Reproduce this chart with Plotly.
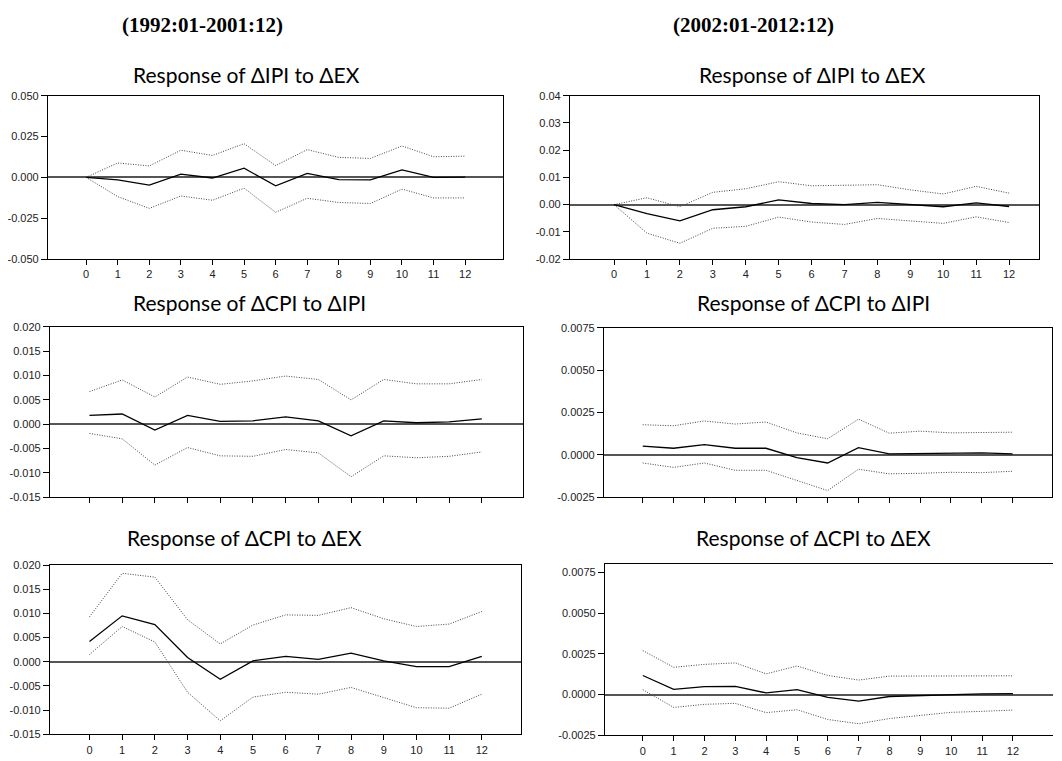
import plotly.graph_objects as go

# the page body adds an 8px margin; the figure is sized so that it fills the 1062x761 window
OFF = 8
W, H = 1062 - OFF, 761 - OFF

horizons = list(range(13))
x_tick_labels = [str(h) for h in horizons]

# Panel 1: Response of dIPI to dEX (1992:01-2001:12)
p1_resp = [0.0, -0.0016, -0.0048, 0.0020, -0.0004, 0.0056, -0.0052, 0.0024, -0.0014, -0.0016, 0.0046, 0.0000, 0.0002]
p1_upper = [0.0, 0.0088, 0.0070, 0.0166, 0.0134, 0.0206, 0.0072, 0.0170, 0.0122, 0.0116, 0.0192, 0.0126, 0.0130]
p1_lower = [0.0, -0.0118, -0.0190, -0.0114, -0.0140, -0.0066, -0.0214, -0.0128, -0.0154, -0.0160, -0.0072, -0.0126, -0.0126]
p1_yticks = [-0.050, -0.025, 0.000, 0.025, 0.050]
p1_yticklabels = ["-0.050", "-0.025", "0.000", "0.025", "0.050"]

# Panel 2: Response of dIPI to dEX (2002:01-2012:12)
p2_resp = [0.0, -0.0033, -0.0060, -0.0019, -0.0008, 0.0017, 0.0004, 0.0000, 0.0008, 0.0000, -0.0008, 0.0006, -0.0007]
p2_upper = [0.0, 0.0025, -0.0008, 0.0045, 0.0058, 0.0084, 0.0069, 0.0071, 0.0073, 0.0054, 0.0039, 0.0067, 0.0042]
p2_lower = [0.0, -0.0105, -0.0142, -0.0087, -0.0080, -0.0046, -0.0064, -0.0073, -0.0051, -0.0061, -0.0069, -0.0045, -0.0066]
p2_yticks = [-0.02, -0.01, 0.00, 0.01, 0.02, 0.03, 0.04]
p2_yticklabels = ["-0.02", "-0.01", "0.00", "0.01", "0.02", "0.03", "0.04"]

# Panel 3: Response of dCPI to dIPI (1992:01-2001:12)
p3_resp = [0.0018, 0.0021, -0.0012, 0.0018, 0.0006, 0.0007, 0.0015, 0.0007, -0.0024, 0.0007, 0.0003, 0.0005, 0.0011]
p3_upper = [0.0067, 0.0091, 0.0056, 0.0097, 0.0082, 0.0089, 0.0099, 0.0092, 0.0050, 0.0092, 0.0083, 0.0083, 0.0092]
p3_lower = [-0.0019, -0.0030, -0.0084, -0.0048, -0.0065, -0.0066, -0.0052, -0.0059, -0.0108, -0.0065, -0.0069, -0.0066, -0.0057]
p3_yticks = [-0.015, -0.010, -0.005, 0.000, 0.005, 0.010, 0.015, 0.020]
p3_yticklabels = ["-0.015", "-0.010", "-0.005", "0.000", "0.005", "0.010", "0.015", "0.020"]

# Panel 4: Response of dCPI to dIPI (2002:01-2012:12)
p4_resp = [0.00052, 0.00039, 0.00060, 0.00039, 0.00039, -0.00016, -0.00048, 0.00043, 0.00006, 0.00008, 0.00012, 0.00012, 0.00006]
p4_upper = [0.00178, 0.00172, 0.00200, 0.00182, 0.00194, 0.00130, 0.00095, 0.00211, 0.00128, 0.00140, 0.00130, 0.00130, 0.00134]
p4_lower = [-0.00048, -0.00074, -0.00048, -0.00091, -0.00091, -0.00153, -0.00211, -0.00085, -0.00112, -0.00109, -0.00103, -0.00105, -0.00097]
p4_yticks = [-0.0025, 0.0, 0.0025, 0.0050, 0.0075]
p4_yticklabels = ["-0.0025", "0.0000", "0.0025", "0.0050", "0.0075"]

# Panel 5: Response of dCPI to dEX (1992:01-2001:12)
p5_resp = [0.0042, 0.0095, 0.0077, 0.0009, -0.0036, 0.0002, 0.0011, 0.0005, 0.0018, 0.0002, -0.0010, -0.0010, 0.0011]
p5_upper = [0.0093, 0.0183, 0.0175, 0.0087, 0.0037, 0.0076, 0.0097, 0.0096, 0.0112, 0.0089, 0.0073, 0.0078, 0.0104]
p5_lower = [0.0015, 0.0073, 0.0041, -0.0063, -0.0122, -0.0073, -0.0063, -0.0067, -0.0053, -0.0074, -0.0095, -0.0096, -0.0067]
p5_yticks = p3_yticks
p5_yticklabels = p3_yticklabels

# Panel 6: Response of dCPI to dEX (2002:01-2012:12)
p6_resp = [0.00117, 0.00032, 0.00048, 0.00050, 0.00010, 0.00030, -0.00018, -0.00040, -0.00012, -0.00006, -0.00002, 0.00004, 0.00006]
p6_upper = [0.00270, 0.00167, 0.00185, 0.00194, 0.00127, 0.00175, 0.00117, 0.00089, 0.00113, 0.00113, 0.00113, 0.00113, 0.00115]
p6_lower = [0.00030, -0.00079, -0.00060, -0.00054, -0.00111, -0.00093, -0.00153, -0.00179, -0.00147, -0.00129, -0.00109, -0.00103, -0.00095]
p6_yticks = p4_yticks
p6_yticklabels = p4_yticklabels

titles = ["Response of ΔIPI to ΔEX", "Response of ΔIPI to ΔEX",
          "Response of ΔCPI to ΔIPI", "Response of ΔCPI to ΔIPI",
          "Response of ΔCPI to ΔEX", "Response of ΔCPI to ΔEX"]
period_labels = ["(1992:01-2001:12)", "(2002:01-2012:12)"]

panels = [
    dict(resp=p1_resp, up=p1_upper, lo=p1_lower, yt=p1_yticks, ytl=p1_yticklabels,
         box=(46, 91, 502, 257), xr=(-1.21, 13.2), yr=(-0.05, 0.05), title_xy=(245, 69), right=True),
    dict(resp=p2_resp, up=p2_upper, lo=p2_lower, yt=p2_yticks, ytl=p2_yticklabels,
         box=(569, 91, 1039, 257), xr=(-1.34, 12.91), yr=(-0.02, 0.04), title_xy=(812, 69), right=True),
    dict(resp=p3_resp, up=p3_upper, lo=p3_lower, yt=p3_yticks, ytl=p3_yticklabels,
         box=(48, 326, 522, 499), xr=(-1.21, 13.26), yr=(-0.015, 0.020), title_xy=(248, 301), right=True),
    dict(resp=p4_resp, up=p4_upper, lo=p4_lower, yt=p4_yticks, ytl=p4_yticklabels,
         box=(603, 327, 1052, 499), xr=(-1.26, 13.28), yr=(-0.0025, 0.0075), title_xy=(813, 301), right=True),
    dict(resp=p5_resp, up=p5_upper, lo=p5_lower, yt=p5_yticks, ytl=p5_yticklabels,
         box=(48, 568, 520, 740), xr=(-1.21, 13.2), yr=(-0.015, 0.020), title_xy=(243, 540), right=True),
    dict(resp=p6_resp, up=p6_upper, lo=p6_lower, yt=p6_yticks, ytl=p6_yticklabels,
         box=(604, 567, 1053, 741), xr=(-1.23, 13.3), yr=(-0.0025, 0.0080), title_xy=(813, 540), right=False),
]


def px(x):
    return (x - OFF) / W


def py(y):
    return 1 - (y - OFF) / H


fig = go.Figure()
layout = dict(width=W, height=H, margin=dict(l=0, r=0, t=0, b=0),
              paper_bgcolor="white", plot_bgcolor="white", showlegend=False)
annotations = []
shapes = []

tick_font = dict(family="Liberation Sans, Arial, sans-serif", size=11, color="#222")

for i, p in enumerate(panels):
    n = i + 1
    xa = "x" if n == 1 else f"x{n}"
    ya = "y" if n == 1 else f"y{n}"
    x0, y0, x1, y1 = p["box"]
    for series, style in ((p["up"], dict(color="#444", width=1, dash="1px,1.5px")),
                          (p["lo"], dict(color="#444", width=1, dash="1px,1.5px")),
                          (p["resp"], dict(color="#000", width=1.3))):
        fig.add_trace(go.Scatter(x=horizons, y=series, mode="lines", line=style,
                                 xaxis=xa, yaxis=ya, hoverinfo="skip"))
    xkey = "xaxis" if n == 1 else f"xaxis{n}"
    ykey = "yaxis" if n == 1 else f"yaxis{n}"
    layout[xkey] = dict(domain=[px(x0), px(x1)], anchor=ya, range=list(p["xr"]),
                        tickmode="array", tickvals=horizons, ticktext=x_tick_labels,
                        ticks="outside", ticklen=5, tickwidth=1, tickcolor="#000",
                        showline=True, linecolor="#000", linewidth=1, mirror=True,
                        showgrid=False, zeroline=False, tickfont=tick_font, fixedrange=True)
    layout[ykey] = dict(domain=[py(y1), py(y0)], anchor=xa, range=list(p["yr"]),
                        tickmode="array", tickvals=p["yt"], ticktext=p["ytl"],
                        ticks="outside", ticklen=6, tickwidth=1, tickcolor="#000",
                        showline=True, linecolor="#000", linewidth=1,
                        mirror=True if p["right"] else False,
                        showgrid=False, zeroline=True, zerolinecolor="#555", zerolinewidth=1.5,
                        tickfont=tick_font, fixedrange=True)
    tx, ty = p["title_xy"]
    annotations.append(dict(text=titles[i], x=px(tx), y=py(ty), xref="paper", yref="paper",
                            xanchor="center", yanchor="middle", showarrow=False,
                            font=dict(family="Lato, Open Sans, sans-serif", size=21, color="#000")))

for lbl, cx in zip(period_labels, (201, 753)):
    annotations.append(dict(text=f"<b>{lbl}</b>", x=px(cx), y=py(19), xref="paper", yref="paper",
                            xanchor="center", yanchor="middle", showarrow=False,
                            font=dict(family="Liberation Serif, Times New Roman, serif", size=21, color="#000")))

# white bands that crop the lower part of the middle-row tick labels, as in the source image
for (a, b) in ((8, 530), (531, 1062)):
    shapes.append(dict(type="rect", xref="paper", yref="paper", layer="above",
                       x0=px(a), x1=px(b), y0=py(522), y1=py(510),
                       fillcolor="white", line=dict(width=0)))

layout["annotations"] = annotations
layout["shapes"] = shapes
fig.update_layout(**layout)
fig.write_html("out.html")
